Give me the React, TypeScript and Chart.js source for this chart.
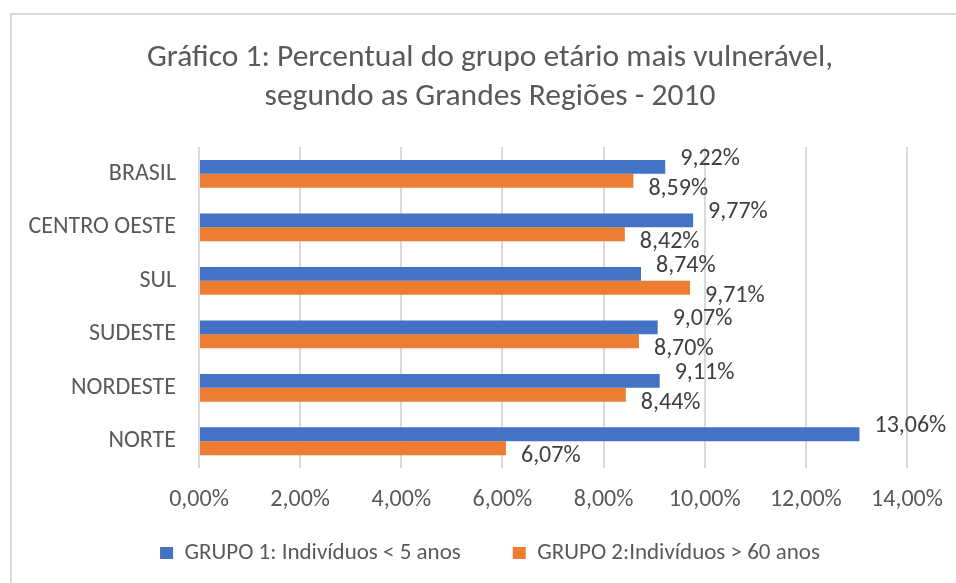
import React, { useEffect, useRef } from "react";
import { Chart, registerables } from "chart.js";

Chart.register(...registerables);

const categories = ["BRASIL", "CENTRO OESTE", "SUL", "SUDESTE", "NORDESTE", "NORTE"];
const grupo1 = [9.22, 9.77, 8.74, 9.07, 9.11, 13.06];
const grupo2 = [8.59, 8.42, 9.71, 8.7, 8.44, 6.07];
const seriesNames = ["GRUPO 1: Indivíduos < 5 anos", "GRUPO 2:Indivíduos > 60 anos"];
const titleLines = ["Gráfico 1: Percentual do grupo etário mais vulnerável,", "segundo as Grandes Regiões - 2010"];
const xMin = 0;
const xMax = 14;
const xStep = 2;

const FONT = "Carlito, Lato, sans-serif";
const TEXT = "#595959";
const BLUE = "#4472C4";
const ORANGE = "#ED7D31";

const fmt = (v: number) => v.toFixed(2).replace(".", ",") + "%";

const labelPlugin = {
  id: "valueLabels",
  afterDatasetsDraw(chart: any) {
    const ctx = chart.ctx;
    ctx.save();
    ctx.font = `24px ${FONT}`;
    ctx.fillStyle = "#404040";
    ctx.textAlign = "left";
    ctx.textBaseline = "middle";
    chart.data.datasets.forEach((ds: any, di: number) => {
      const meta = chart.getDatasetMeta(di);
      meta.data.forEach((el: any, i: number) => {
        const dy = di === 0 ? -8 : 8;
        ctx.fillText(fmt(ds.data[i]), el.x + 15, el.y + dy);
      });
    });
    ctx.restore();
  },
};

const legendShift = {
  id: "legendShift",
  afterLayout(chart: any) {
    const lg = chart.legend;
    if (lg) {
      lg.top -= 25.5;
      lg.bottom -= 25.5;
    }
  },
};

export default function App() {
  const ref = useRef<HTMLCanvasElement>(null);
  useEffect(() => {
    if (!ref.current) return;
    const chart = new Chart(ref.current, {
      type: "bar",
      data: {
        labels: categories,
        datasets: [
          { label: seriesNames[0], data: grupo1, backgroundColor: BLUE, borderWidth: 0 },
          { label: seriesNames[1], data: grupo2, backgroundColor: ORANGE, borderWidth: 0 },
        ],
      },
      options: {
        indexAxis: "y",
        responsive: false,
        animation: false,
        datasets: { bar: { categoryPercentage: 0.52, barPercentage: 1 } },
        layout: { padding: { left: 24, right: 0, top: 0, bottom: -17 } },
        plugins: {
          title: {
            display: true,
            text: titleLines,
            color: TEXT,
            font: { family: FONT, size: 31.5, weight: "normal", lineHeight: 1.24 },
            padding: { top: 38.5, bottom: 30.5 },
          },
          legend: {
            position: "bottom",
            labels: {
              color: TEXT,
              font: { family: FONT, size: 23 },
              boxWidth: 13,
              boxHeight: 12,
              padding: 52,
            },
          },
          tooltip: { enabled: false },
        },
        scales: {
          x: {
            min: xMin,
            max: xMax,
            border: { display: false },
            grid: { color: "#d9d9d9", lineWidth: 2, drawTicks: false },
            ticks: {
              stepSize: xStep,
              color: TEXT,
              padding: 18,
              font: { family: FONT, size: 24 },
              callback: (v: any) => fmt(Number(v)),
            },
            afterFit: (s: any) => {
              s.height = 47;
              s.paddingRight = 49;
              s.paddingLeft = 0;
            },
          },
          y: {
            border: { display: false },
            grid: { display: false, drawTicks: false },
            ticks: { color: TEXT, padding: 23, font: { family: FONT, size: 24 } },
            afterFit: (s: any) => {
              s.width = 175;
            },
          },
        },
      },
      plugins: [labelPlugin, legendShift],
    });
    return () => chart.destroy();
  }, []);
  return (
    <div style={{ position: "absolute", left: 0, top: 0, width: 956, height: 583, overflow: "hidden", background: "#fff" }}>
      <div style={{ position: "absolute", left: 10, top: 13, width: 1000, height: 700, border: "2px solid #d9d9d9" }} />
      <canvas ref={ref} width={956} height={583} style={{ position: "absolute", left: 0, top: 0 }} />
    </div>
  );
}
